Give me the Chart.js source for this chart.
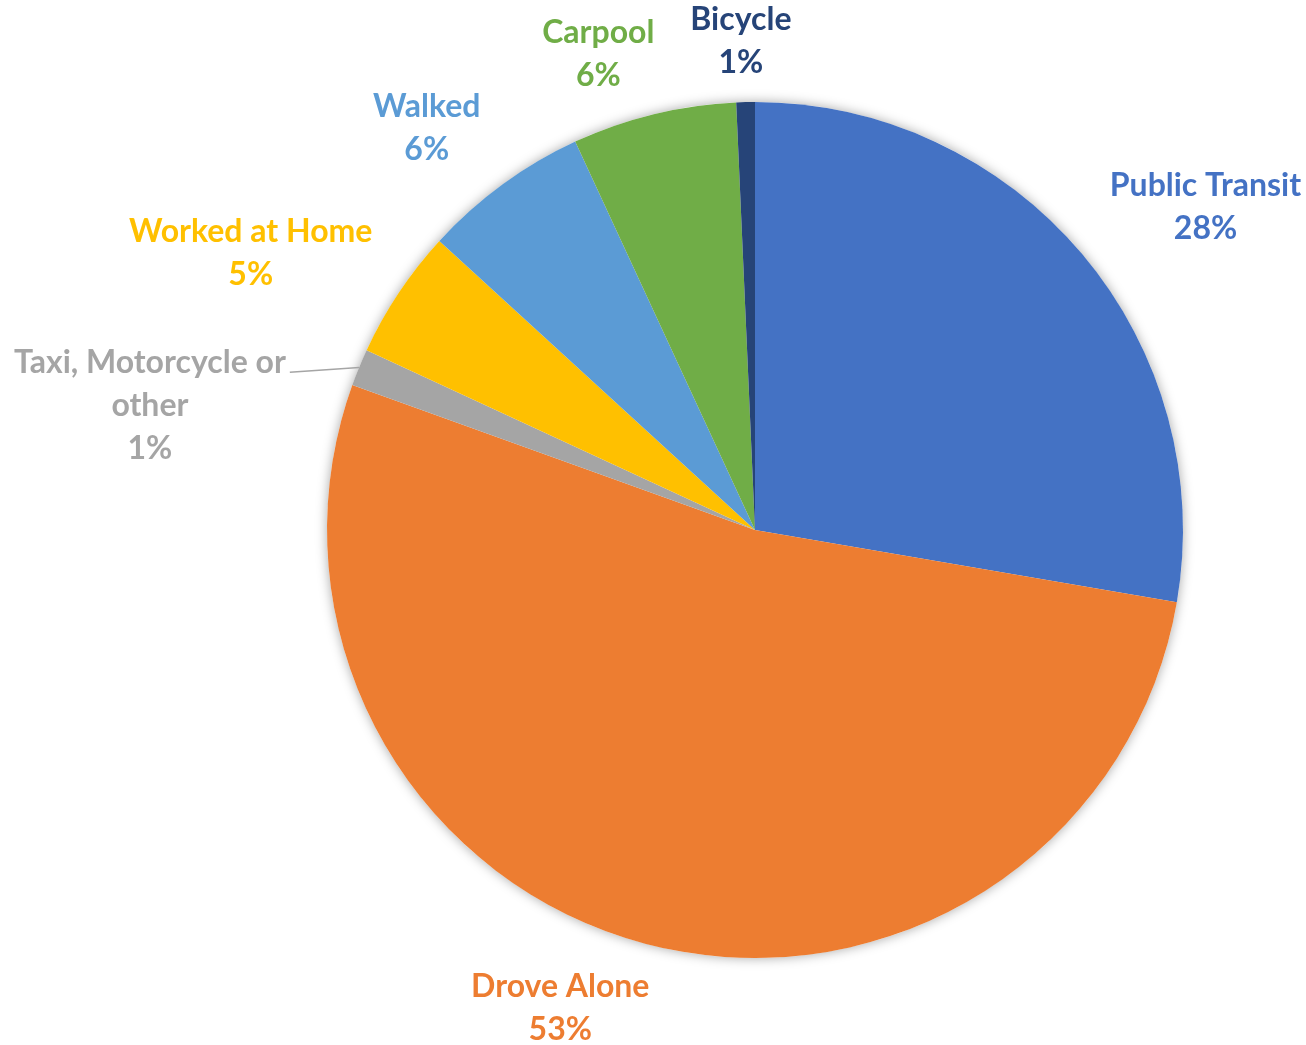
<!DOCTYPE html>
<html>
<head>
<meta charset="utf-8">
<title>Commute mode share</title>
<script src="https://cdn.jsdelivr.net/npm/chart.js@4.4.1/dist/chart.umd.min.js"></script>
<style>
    body { margin: 0; background: #ffffff; }
    #wrap { width: 1306px; height: 1045px; position: relative; }
</style>
</head>
<body>
<div id="wrap"><canvas id="pieChart"></canvas></div>
<script>
// commute modes, clockwise from 12 o'clock
let modes = ['Public Transit', 'Drove Alone', 'Taxi, Motorcycle or other', 'Worked at Home', 'Walked', 'Carpool', 'Bicycle'];
let shares = [27.7, 52.8, 1.4, 4.9, 6.3, 6.2, 0.7];
let sliceColors = ['#4472C4', '#ED7D31', '#A5A5A5', '#FFC000', '#5B9BD5', '#70AD47', '#264478'];

// label placement tweaks (px) and which labels get a leader line
let labelNudge = [[20, 3], [6, 12], [-64, 107], [-18, 9], [-16, -5], [0, -7], [0, -8]];
let leaderLines = [false, false, true, false, false, false, false];

let labelFont = 'bold 32px Lato';
let lineHeight = 43;

function wrapText(ctx, text, maxWidth) {
    let words = text.split(' ');
    let lines = [];
    let current = '';
    words.forEach(word => {
        let test = current ? current + ' ' + word : word;
        if (ctx.measureText(test).width > maxWidth && current) {
            lines.push(current);
            current = word;
        } else {
            current = test;
        }
    });
    if (current) lines.push(current);
    return lines;
}

function clamp(v) {
    return Math.max(-1, Math.min(1, v));
}

// soft shadow behind the whole pie
let pieShadow = {
    id: 'pieShadow',
    beforeDatasetsDraw(chart) {
        let arc = chart.getDatasetMeta(0).data[0];
        if (!arc) return;
        let p = arc.getProps(['x', 'y', 'outerRadius'], true);
        let ctx = chart.ctx;
        ctx.save();
        ctx.shadowColor = 'rgba(0, 0, 0, 0.35)';
        ctx.shadowBlur = 12;
        ctx.fillStyle = '#ffffff';
        ctx.beginPath();
        ctx.arc(p.x, p.y, p.outerRadius, 0, Math.PI * 2);
        ctx.fill();
        ctx.restore();
    }
};

// category + percent labels outside each slice
let outsideLabels = {
    id: 'outsideLabels',
    afterDatasetsDraw(chart) {
        let ctx = chart.ctx;
        let meta = chart.getDatasetMeta(0);
        let values = chart.data.datasets[0].data;
        let total = values.reduce((a, b) => a + b, 0);
        ctx.save();
        ctx.font = labelFont;
        ctx.textAlign = 'center';
        ctx.textBaseline = 'middle';
        meta.data.forEach((arc, i) => {
            let p = arc.getProps(['x', 'y', 'startAngle', 'endAngle', 'outerRadius'], true);
            let mid = (p.startAngle + p.endAngle) / 2;
            let ux = Math.cos(mid);
            let uy = Math.sin(mid);
            let ax = p.x + (p.outerRadius + 10) * ux;
            let ay = p.y + (p.outerRadius + 10) * uy;

            let lines = wrapText(ctx, chart.data.labels[i], 300);
            lines.push(Math.round(values[i] / total * 100) + '%');
            let w = Math.max(...lines.map(l => ctx.measureText(l).width));
            let h = lines.length * lineHeight;

            let cx = ax + w / 2 * clamp(ux * 4) + labelNudge[i][0];
            let cy = ay + h / 2 * clamp(uy * 4) + labelNudge[i][1];
            let top = cy - h / 2;

            ctx.fillStyle = sliceColors[i];
            lines.forEach((line, j) => {
                ctx.fillText(line, cx, top + lineHeight * (j + 0.5));
            });

            if (leaderLines[i]) {
                ctx.strokeStyle = '#A5A5A5';
                ctx.lineWidth = 1.5;
                ctx.beginPath();
                ctx.moveTo(cx + w / 2 + 4, top + lineHeight * 0.5 + 9);
                ctx.lineTo(p.x + p.outerRadius * ux, p.y + p.outerRadius * uy);
                ctx.stroke();
            }
        });
        ctx.restore();
    }
};

new Chart(document.getElementById('pieChart'), {
    type: 'pie',
    data: {
        labels: modes,
        datasets: [{
            data: shares,
            backgroundColor: sliceColors,
            borderWidth: 0
        }]
    },
    options: {
        responsive: true,
        maintainAspectRatio: false,
        animation: false,
        layout: {
            padding: { left: 327, right: 123, top: 102, bottom: 87 }
        },
        plugins: {
            legend: { display: false },
            tooltip: { enabled: false }
        }
    },
    plugins: [pieShadow, outsideLabels]
});
</script>
</body>
</html>
